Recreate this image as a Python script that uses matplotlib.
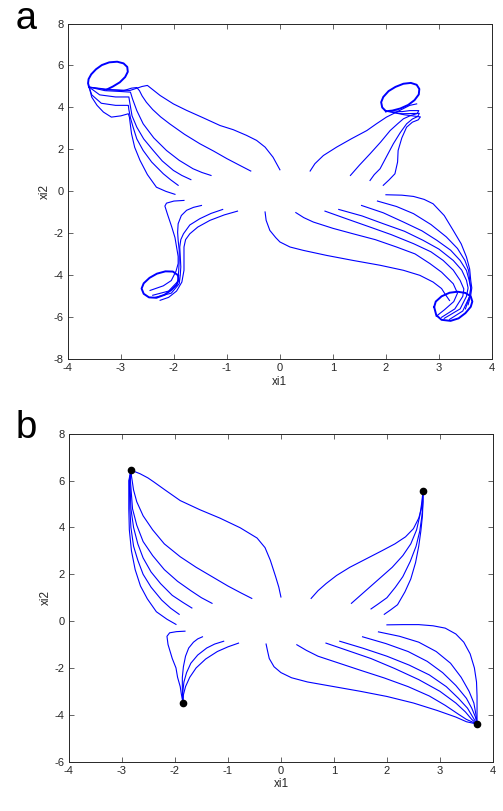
import matplotlib
matplotlib.use("Agg")
import matplotlib.pyplot as plt

plt.rcParams['font.family'] = ['Liberation Sans', 'DejaVu Sans']
plt.rcParams['axes.unicode_minus'] = False  # MATLAB-style hyphen minus

# ---- panel a: trajectories winding onto four limit cycles ----
A_UPPER_LEFT = [
    [(0.0, 1.03), (-0.13, 1.63), (-0.28, 2.11), (-0.44, 2.43), (-0.63, 2.67), (-0.88, 2.94),
     (-1.13, 3.14), (-1.45, 3.51), (-1.76, 3.86), (-2.01, 4.17), (-2.26, 4.57), (-2.42, 4.89),
     (-2.50, 5.05), (-2.6, 5.0), (-2.83, 4.81), (-3.2, 4.85), (-3.6, 4.97)],
    [(-0.55, 0.97), (-0.78, 1.27), (-1.0, 1.56), (-1.25, 1.92), (-1.51, 2.27), (-1.8, 2.72),
     (-2.08, 3.22), (-2.25, 3.55), (-2.4, 3.9), (-2.52, 4.25), (-2.6, 4.55), (-2.65, 4.8),
     (-2.70, 4.95), (-2.8, 4.92), (-2.95, 4.8), (-3.3, 4.85), (-3.6, 4.97)],
    [(-1.30, 0.76), (-1.47, 0.9), (-1.64, 1.08), (-1.9, 1.48), (-2.14, 1.95), (-2.38, 2.55),
     (-2.58, 3.22), (-2.7, 3.85), (-2.78, 4.4), (-2.82, 4.73), (-3.0, 4.76), (-3.3, 4.8),
     (-3.6, 4.97)],
    [(-1.68, 0.56), (-1.85, 0.76), (-2.01, 1.0), (-2.22, 1.45), (-2.39, 1.95), (-2.57, 2.5),
     (-2.70, 3.06), (-2.79, 3.6), (-2.83, 4.19), (-2.85, 4.5), (-3.1, 4.5), (-3.4, 4.6),
     (-3.6, 4.97)],
    [(-1.92, 0.29), (-2.06, 0.55), (-2.20, 0.84), (-2.42, 1.4), (-2.58, 1.95), (-2.7, 2.5),
     (-2.77, 3.06), (-2.82, 3.5), (-2.85, 3.9), (-2.86, 4.1), (-3.1, 4.1), (-3.37, 4.2),
     (-3.55, 4.6), (-3.6, 4.97)],
    [(-1.98, -0.14), (-2.15, 0.0), (-2.33, 0.2), (-2.5, 0.8), (-2.64, 1.48), (-2.74, 2.1),
     (-2.80, 2.75), (-2.84, 3.54), (-2.86, 3.7), (-3.0, 3.6), (-3.18, 3.54), (-3.33, 3.78),
     (-3.45, 4.1), (-3.55, 4.49), (-3.6, 4.97)],
]
A_CYCLE_UL = [(-3.60, 4.97), (-3.62, 5.15), (-3.61, 5.35), (-3.56, 5.58), (-3.47, 5.82),
              (-3.36, 6.02), (-3.22, 6.15), (-3.07, 6.18), (-2.95, 6.1), (-2.88, 5.93),
              (-2.87, 5.7), (-2.92, 5.45), (-3.02, 5.2), (-3.15, 5.0), (-3.27, 4.85)]

A_UPPER_RIGHT = [
    [(0.57, 0.97), (0.66, 1.32), (0.82, 1.71), (1.07, 2.11), (1.35, 2.51), (1.64, 2.90),
     (1.82, 3.22), (2.01, 3.54), (2.20, 3.78), (2.45, 4.10), (2.58, 4.17)],
    [(1.33, 0.76), (1.5, 1.25), (1.70, 1.79), (1.9, 2.35), (2.08, 2.90), (2.22, 3.22),
     (2.33, 3.46), (2.47, 3.62), (2.59, 3.71), (2.62, 3.85), (2.45, 3.85), (2.3, 3.8), (2.1, 3.85)],
    [(1.70, 0.52), (1.78, 0.8), (1.89, 1.08), (2.02, 1.7), (2.14, 2.27), (2.27, 2.8),
     (2.39, 3.22), (2.5, 3.45), (2.60, 3.57), (2.63, 3.72), (2.3, 3.7), (2.05, 3.82)],
    [(1.95, 0.29), (2.06, 0.55), (2.17, 0.84), (2.22, 1.4), (2.23, 1.95), (2.3, 2.55),
     (2.39, 3.06), (2.5, 3.3), (2.61, 3.41), (2.65, 3.55), (2.35, 3.65), (2.05, 3.8)],
]
A_CYCLE_UR = [(2.0, 3.82), (1.93, 4.0), (1.91, 4.25), (1.95, 4.5), (2.05, 4.78), (2.18, 4.98),
              (2.33, 5.13), (2.47, 5.17), (2.58, 5.08), (2.63, 4.88), (2.62, 4.62), (2.54, 4.35),
              (2.42, 4.12), (2.27, 3.95), (2.12, 3.85), (2.0, 3.82)]

A_LOWER_LEFT = [
    [(-1.81, -0.43), (-2.0, -0.46), (-2.14, -0.56), (-2.17, -0.7), (-2.12, -1.1), (-2.04, -1.70),
     (-1.98, -2.2), (-1.95, -2.65), (-1.92, -3.1), (-1.92, -3.44), (-1.96, -3.8), (-2.05, -4.25),
     (-2.2, -4.5), (-2.45, -4.72)],
    [(-1.48, -0.67), (-1.63, -0.76), (-1.76, -0.90), (-1.86, -1.15), (-1.92, -1.54),
     (-1.93, -1.95), (-1.92, -2.33), (-1.90, -2.8), (-1.90, -3.29), (-1.91, -3.8),
     (-1.93, -4.3), (-2.1, -4.75), (-2.4, -4.95)],
    [(-1.08, -0.86), (-1.3, -1.05), (-1.51, -1.30), (-1.7, -1.6), (-1.82, -2.02), (-1.87, -2.3),
     (-1.89, -2.65), (-1.88, -3.1), (-1.87, -3.60), (-1.88, -4.0), (-1.9, -4.4), (-2.05, -4.85),
     (-2.35, -5.05)],
    [(-0.80, -0.94), (-1.05, -1.12), (-1.32, -1.38), (-1.55, -1.7), (-1.70, -2.02),
     (-1.78, -2.3), (-1.81, -2.65), (-1.81, -3.2), (-1.81, -3.76), (-1.85, -4.32),
     (-1.95, -4.75), (-2.1, -5.05), (-2.26, -5.19)],
]
A_CYCLE_LL = [(-1.92, -4.0), (-1.91, -4.2), (-1.95, -4.45), (-2.05, -4.7), (-2.18, -4.93),
              (-2.33, -5.07), (-2.47, -5.05), (-2.57, -4.88), (-2.61, -4.63), (-2.57, -4.38),
              (-2.46, -4.12), (-2.32, -3.92), (-2.16, -3.81), (-2.02, -3.82), (-1.92, -4.0)]

A_LOWER_RIGHT = [
    [(-0.28, -0.98), (-0.26, -1.38), (-0.19, -1.86), (-0.08, -2.2), (0.0, -2.41), (0.19, -2.65),
     (0.44, -2.81), (0.88, -3.05), (1.38, -3.29), (1.89, -3.52), (2.33, -3.76), (2.64, -4.0),
     (2.89, -4.32), (3.05, -4.63), (3.11, -4.87), (3.2, -5.2)],
    [(0.30, -1.01), (0.45, -1.25), (0.63, -1.46), (1.0, -1.76), (1.38, -2.02), (1.8, -2.3),
     (2.20, -2.65), (2.55, -2.98), (2.83, -3.44), (3.05, -3.85), (3.27, -4.40), (3.35, -4.85),
     (3.28, -5.25), (3.1, -5.65), (2.95, -5.95)],
    [(0.85, -0.94), (1.25, -1.3), (1.70, -1.70), (2.1, -2.06), (2.52, -2.49), (2.85, -2.88),
     (3.08, -3.29), (3.27, -3.75), (3.40, -4.24), (3.47, -4.65), (3.45, -5.0), (3.3, -5.6),
     (3.05, -6.0)],
    [(1.11, -0.86), (1.55, -1.17), (1.95, -1.54), (2.35, -1.9), (2.70, -2.33), (3.0, -2.75),
     (3.27, -3.29), (3.43, -3.75), (3.52, -4.24), (3.55, -4.6), (3.52, -5.0), (3.4, -5.6),
     (3.1, -6.05)],
    [(1.54, -0.67), (1.95, -1.02), (2.33, -1.46), (2.68, -1.88), (2.96, -2.33), (3.22, -2.8),
     (3.40, -3.29), (3.52, -3.77), (3.57, -4.24), (3.6, -4.6), (3.58, -5.0), (3.45, -5.7),
     (3.2, -6.1)],
    [(1.84, -0.46), (2.2, -0.72), (2.52, -1.06), (2.85, -1.58), (3.14, -2.17), (3.35, -2.72),
     (3.49, -3.29), (3.56, -3.77), (3.58, -4.24), (3.6, -4.6), (3.58, -5.0), (3.5, -5.6)],
    [(2.0, -0.16), (2.3, -0.18), (2.52, -0.24), (2.72, -0.38), (2.89, -0.59), (3.1, -1.15),
     (3.27, -1.86), (3.42, -2.5), (3.52, -3.13), (3.58, -3.7), (3.60, -4.24), (3.62, -4.6),
     (3.6, -4.95), (3.55, -5.4)],
]
A_CYCLE_LR = [(2.91, -5.51), (2.94, -5.25), (3.05, -5.0), (3.2, -4.83), (3.35, -4.78),
              (3.5, -4.84), (3.6, -5.0), (3.63, -5.25), (3.6, -5.5), (3.5, -5.8), (3.37, -6.05),
              (3.22, -6.17), (3.05, -6.12), (2.95, -5.9), (2.91, -5.51)]

# ---- panel b: same starts, trajectories settle on four fixed points ----
B_UPPER_LEFT = [
    [(0.0, 1.03), (-0.04, 1.45), (-0.1, 1.9), (-0.2, 2.6), (-0.30, 3.14), (-0.45, 3.55),
     (-0.77, 3.99), (-1.15, 4.4), (-1.53, 4.76), (-1.9, 5.15), (-2.19, 5.61), (-2.4, 5.95),
     (-2.51, 6.12), (-2.66, 6.3), (-2.83, 6.45)],
    [(-0.55, 0.97), (-0.75, 1.2), (-1.0, 1.5), (-1.3, 1.9), (-1.6, 2.3), (-1.9, 2.75),
     (-2.2, 3.3), (-2.42, 3.9), (-2.6, 4.5), (-2.72, 5.1), (-2.78, 5.6), (-2.82, 6.2),
     (-2.83, 6.45)],
    [(-1.30, 0.76), (-1.5, 1.0), (-1.7, 1.3), (-1.95, 1.7), (-2.2, 2.2), (-2.42, 2.8),
     (-2.6, 3.4), (-2.72, 4.1), (-2.8, 4.8), (-2.84, 6.0), (-2.83, 6.45)],
    [(-1.68, 0.56), (-1.85, 0.8), (-2.05, 1.1), (-2.27, 1.6), (-2.45, 2.1), (-2.6, 2.7),
     (-2.7, 3.3), (-2.78, 4.0), (-2.83, 4.8), (-2.85, 6.0), (-2.83, 6.45)],
    [(-1.92, 0.29), (-2.08, 0.55), (-2.25, 0.9), (-2.45, 1.45), (-2.6, 2.0), (-2.7, 2.6),
     (-2.78, 3.2), (-2.83, 4.0), (-2.85, 4.8), (-2.86, 6.0), (-2.83, 6.45)],
    [(-1.98, -0.14), (-2.15, 0.08), (-2.35, 0.4), (-2.52, 0.95), (-2.65, 1.5), (-2.75, 2.2),
     (-2.82, 3.0), (-2.86, 3.9), (-2.87, 4.8), (-2.87, 6.0), (-2.83, 6.45)],
]
B_UPPER_RIGHT = [
    [(0.57, 0.97), (0.7, 1.3), (0.85, 1.6), (1.05, 1.95), (1.3, 2.3), (1.6, 2.65), (1.9, 3.0),
     (2.15, 3.3), (2.35, 3.6), (2.5, 3.95), (2.6, 4.4), (2.65, 4.8), (2.67, 5.2), (2.68, 5.57)],
    [(1.33, 0.76), (1.5, 1.1), (1.7, 1.5), (1.9, 1.9), (2.1, 2.3), (2.3, 2.8), (2.45, 3.3),
     (2.56, 3.9), (2.62, 4.5), (2.66, 5.1), (2.68, 5.57)],
    [(1.70, 0.52), (1.84, 0.74), (2.0, 1.0), (2.16, 1.45), (2.3, 1.9), (2.44, 2.55), (2.55, 3.2),
     (2.62, 3.85), (2.66, 4.5), (2.68, 5.1), (2.68, 5.57)],
    [(1.95, 0.29), (2.07, 0.48), (2.2, 0.7), (2.34, 1.25), (2.45, 1.8), (2.54, 2.5), (2.6, 3.2),
     (2.64, 3.85), (2.67, 4.5), (2.68, 5.1), (2.68, 5.57)],
]
B_LOWER_LEFT = [
    [(-1.81, -0.43), (-1.97, -0.45), (-2.1, -0.5), (-2.15, -0.65), (-2.13, -1.0), (-2.05, -1.6),
     (-1.98, -2.0), (-1.95, -2.4), (-1.9, -2.8), (-1.88, -3.1), (-1.85, -3.48)],
    [(-1.48, -0.67), (-1.57, -0.76), (-1.65, -0.9), (-1.74, -1.15), (-1.8, -1.5), (-1.84, -1.95),
     (-1.86, -2.4), (-1.86, -2.9), (-1.85, -3.48)],
    [(-1.08, -0.86), (-1.25, -0.98), (-1.4, -1.15), (-1.57, -1.45), (-1.7, -1.8), (-1.78, -2.2),
     (-1.83, -2.6), (-1.85, -3.0), (-1.85, -3.48)],
    [(-0.80, -0.94), (-1.0, -1.1), (-1.2, -1.3), (-1.42, -1.62), (-1.6, -2.0), (-1.72, -2.4),
     (-1.8, -2.8), (-1.84, -3.15), (-1.85, -3.48)],
]
B_LOWER_RIGHT = [
    [(-0.28, -0.98), (-0.25, -1.3), (-0.22, -1.6), (-0.13, -1.95), (0.0, -2.2), (0.2, -2.42),
     (0.5, -2.6), (1.0, -2.8), (1.5, -3.0), (2.0, -3.22), (2.5, -3.5), (2.95, -3.82),
     (3.3, -4.1), (3.5, -4.3), (3.7, -4.4)],
    [(0.30, -1.01), (0.48, -1.25), (0.7, -1.5), (1.1, -1.8), (1.5, -2.1), (1.95, -2.43),
     (2.4, -2.8), (2.8, -3.2), (3.1, -3.6), (3.35, -3.98), (3.5, -4.2), (3.7, -4.4)],
    [(0.85, -0.94), (1.25, -1.25), (1.7, -1.6), (2.15, -2.03), (2.6, -2.5), (3.0, -3.0),
     (3.3, -3.5), (3.48, -3.88), (3.6, -4.2), (3.7, -4.4)],
    [(1.11, -0.86), (1.55, -1.16), (2.0, -1.5), (2.42, -1.88), (2.8, -2.3), (3.12, -2.8),
     (3.35, -3.3), (3.52, -3.72), (3.62, -4.1), (3.7, -4.4)],
    [(1.54, -0.67), (1.98, -0.96), (2.4, -1.3), (2.76, -1.72), (3.05, -2.2), (3.3, -2.75),
     (3.5, -3.3), (3.6, -3.72), (3.67, -4.1), (3.7, -4.4)],
    [(1.84, -0.46), (2.24, -0.65), (2.6, -0.9), (2.93, -1.3), (3.2, -1.8), (3.4, -2.4),
     (3.55, -3.0), (3.64, -3.5), (3.68, -4.0), (3.7, -4.4)],
    [(2.0, -0.16), (2.3, -0.15), (2.6, -0.15), (2.87, -0.2), (3.1, -0.3), (3.3, -0.55),
     (3.45, -0.9), (3.57, -1.4), (3.65, -2.0), (3.69, -2.6), (3.7, -3.2), (3.7, -4.0),
     (3.7, -4.4)],
]
B_EQUILIBRIA_X = [-2.83, 2.68, -1.85, 3.7]
B_EQUILIBRIA_Y = [6.45, 5.57, -3.48, -4.4]

LINE_COLOR = '#0000ff'
AXIS_COLOR = '#262626'


def style_axes(ax, ylim, yticks):
    ax.set_xlim(-4, 4)
    ax.set_ylim(*ylim)
    ax.set_xticks(range(-4, 5))
    ax.set_yticks(yticks)
    ax.tick_params(direction='in', length=3.5, width=0.5, top=True, right=True,
                   labelsize=8, colors=AXIS_COLOR, pad=3)
    for s in ax.spines.values():
        s.set_color(AXIS_COLOR)
        s.set_linewidth(0.7)
    ax.set_xlabel('xi1', fontsize=8.5, color=AXIS_COLOR, labelpad=2)
    ax.set_ylabel('xi2', fontsize=8.5, color=AXIS_COLOR, labelpad=2)


def draw_curves(ax, curves, lw=0.8):
    for c in curves:
        xs = [p[0] for p in c]
        ys = [p[1] for p in c]
        ax.plot(xs, ys, color=LINE_COLOR, lw=lw, solid_joinstyle='round')


fig = plt.figure(figsize=(5.03, 8.11), dpi=100)

ax1 = fig.add_axes([0.135, 0.557, 0.843, 0.414])
for group in (A_UPPER_LEFT, A_UPPER_RIGHT, A_LOWER_LEFT, A_LOWER_RIGHT):
    draw_curves(ax1, group)
for cyc in (A_CYCLE_UL, A_CYCLE_UR, A_CYCLE_LL, A_CYCLE_LR):
    draw_curves(ax1, [cyc], lw=1.4)
style_axes(ax1, (-8, 8), range(-8, 9, 2))

ax2 = fig.add_axes([0.137, 0.061, 0.843, 0.404])
for group in (B_UPPER_LEFT, B_UPPER_RIGHT, B_LOWER_LEFT, B_LOWER_RIGHT):
    draw_curves(ax2, group)
ax2.plot(B_EQUILIBRIA_X, B_EQUILIBRIA_Y, 'o', color='black', ms=4.5, zorder=5)
style_axes(ax2, (-6, 8), range(-6, 9, 2))

# panel letters
fig.text(0.052, 1 - 29 / 811, 'a', fontsize=28, family='Liberation Mono',
         ha='center', va='baseline')
fig.text(0.052, 1 - 438 / 811, 'b', fontsize=28, family='Liberation Mono',
         ha='center', va='baseline')

fig.savefig('out.png', dpi=100)
